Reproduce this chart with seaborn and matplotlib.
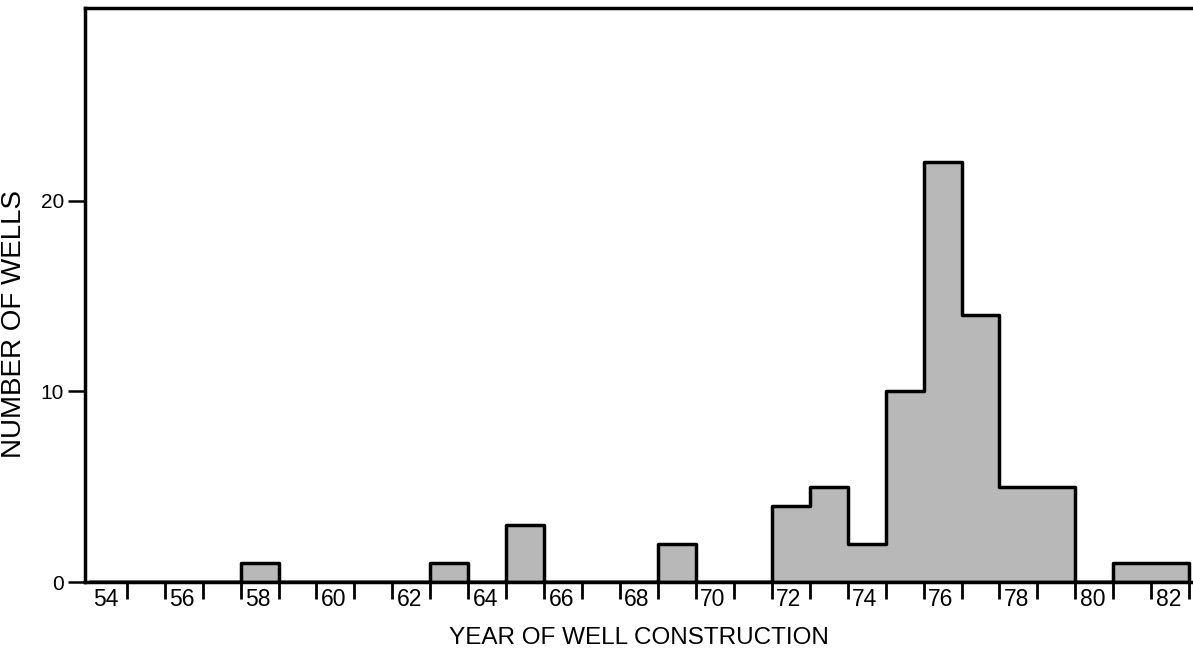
import matplotlib
matplotlib.use("Agg")
import matplotlib.pyplot as plt
import seaborn as sns
import numpy as np
import pandas as pd

# Data
years = [54, 55, 56, 57, 58, 59, 60, 61, 62, 63, 64, 65, 66, 67, 68, 69,
         70, 71, 72, 73, 74, 75, 76, 77, 78, 79, 80, 81, 82]
wells = [0, 0, 0, 0, 1, 0, 0, 0, 0, 1, 0, 3, 0, 0, 0, 2,
         0, 0, 4, 5, 2, 10, 22, 14, 5, 5, 0, 1, 1]
tick_labels = ["54", "56", "58", "60", "62", "64", "66", "68",
               "70", "72", "74", "76", "78", "80", "82"]
y_ticks = [0, 10, 20]

df = pd.DataFrame({"year": years, "wells": wells})

sns.set_theme(style="white")
plt.rcParams['font.family'] = ['Liberation Sans', 'DejaVu Sans']
plt.rcParams['text.color'] = 'black'
plt.rcParams['axes.labelcolor'] = 'black'
plt.rcParams['xtick.color'] = 'black'
plt.rcParams['ytick.color'] = 'black'

fig = plt.figure(figsize=(11.93, 6.48), dpi=100)
ax = fig.add_axes([85/1193, (648-582)/648, (1193-85)/1193, (582-8)/648])

bins = list(range(54, 84))
sns.histplot(data=df, x="year", weights="wells", bins=bins, element="step",
             fill=True, color="#b8b8b8", alpha=1.0, edgecolor="black",
             linewidth=2.5, ax=ax)

ax.set_xlim(53.9, 83.1)
ax.set_ylim(0, 30.1)

# x ticks: labels at even-year bin centers, tick marks at year boundaries
ax.set_xticks([int(t) + 0.45 for t in tick_labels])
ax.set_xticklabels(tick_labels, fontsize=16.5)
ax.set_xticks(list(range(55, 84)), minor=True)
ax.tick_params(axis="x", which="major", length=0, pad=4, labelcolor="black")
ax.tick_params(axis="x", which="minor", length=12, width=2, color="black",
               direction="out", bottom=True)

ax.set_yticks(y_ticks)
ax.set_yticklabels([str(v) for v in y_ticks], fontsize=15)
ax.tick_params(axis="y", which="major", length=12, width=1.8, color="black",
               direction="out", left=True, pad=3, labelcolor="black")

for side in ["left", "top", "bottom"]:
    ax.spines[side].set_visible(True)
    ax.spines[side].set_color("black")
    ax.spines[side].set_linewidth(2.5)
ax.spines["right"].set_visible(False)

ax.set_xlabel("YEAR OF WELL CONSTRUCTION", fontsize=17.5, labelpad=12,
              color="black")
ax.set_ylabel("NUMBER OF WELLS", fontsize=20, color="black")
ax.yaxis.set_label_coords(-0.052, 0.45)
ax.grid(False)

fig.savefig("out.png", dpi=100)
